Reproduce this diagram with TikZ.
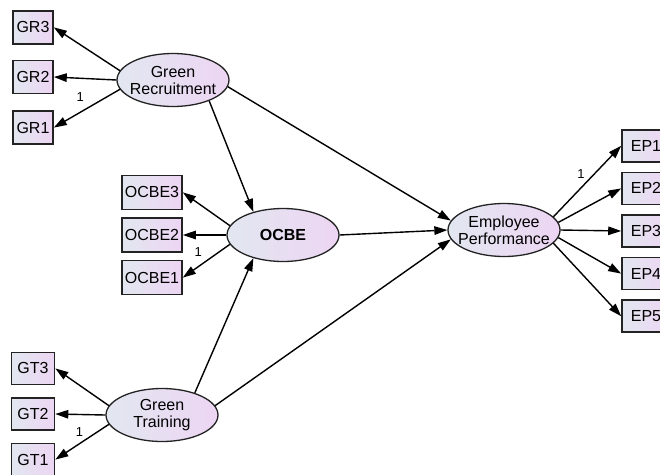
\documentclass[tikz,border=0pt]{standalone}
\usepackage{fontspec}
\setmainfont{Liberation Sans}
\definecolor{semLeft}{RGB}{226, 231, 240}
\definecolor{semRight}{RGB}{237, 213, 243}
\definecolor{semDark}{RGB}{35, 35, 35}
\usetikzlibrary{arrows.meta,positioning,shapes}

\begin{document}
\begin{tikzpicture}[x=1pt, y=-1pt, every node/.style={font=\fontsize{16}{17}\selectfont},
    latent/.style={ellipse, draw=semDark, line width=1.3pt, left color=semLeft, right color=semRight, minimum width=112pt, minimum height=53pt, inner xsep=-8pt, inner ysep=-2pt, align=center},
    indicator/.style={rectangle, draw=semDark, line width=1.6pt, left color=semLeft, right color=semRight, minimum width=40pt, minimum height=33pt, inner sep=1pt},
    loading/.style={-{Triangle[length=13pt, width=8.5pt]}, line width=1.4pt},
    fixone/.style={font=\fontsize{13}{13}\selectfont, inner sep=1pt}]
    \useasboundingbox (0,0) rectangle (660,474);

    % latent variables
    \node[latent] (gr) at (173,80) {Green\\Recruitment};
    \node[latent, font=\fontsize{16}{17}\selectfont\bfseries] (ocbe) at (283,235) {OCBE};
    \node[latent] (gt) at (162,415) {Green\\Training};
    \node[latent] (ep) at (504,230) {Employee\\Performance};

    % green recruitment items
    \node[indicator] (gr2) at (33,77) {GR2};
    \node[indicator, above=15pt of gr2] (gr3) {GR3};
    \node[indicator, below=16pt of gr2] (gr1) {GR1};

    % ocbe items
    \node[indicator, minimum width=60pt, minimum height=34pt] (ocbe2) at (152,235) {OCBE2};
    \node[indicator, minimum width=60pt, minimum height=34pt, above=7pt of ocbe2] (ocbe3) {OCBE3};
    \node[indicator, minimum width=60pt, minimum height=34pt, below=7pt of ocbe2] (ocbe1) {OCBE1};

    % green training items
    \node[indicator, minimum width=43pt, minimum height=32pt] (gt2) at (33,414) {GT2};
    \node[indicator, minimum width=43pt, minimum height=32pt, above=12pt of gt2] (gt3) {GT3};
    \node[indicator, minimum width=43pt, minimum height=32pt, below=12pt of gt2] (gt1) {GT1};

    % employee performance items (cut by the right margin)
    \node[indicator, minimum width=48pt, minimum height=32pt] (ep3) at (646,231) {EP3};
    \node[indicator, minimum width=48pt, minimum height=32pt, above=9pt of ep3] (ep2) {EP2};
    \node[indicator, minimum width=48pt, minimum height=32pt, above=9pt of ep2] (ep1) {EP1};
    \node[indicator, minimum width=48pt, minimum height=32pt, below=9pt of ep3] (ep4) {EP4};
    \node[indicator, minimum width=48pt, minimum height=32pt, below=9pt of ep4] (ep5) {EP5};

    % measurement arrows
    \draw[loading] (gr.170) -- (gr3.east);
    \draw[loading] (gr.180) -- (gr2.east);
    \draw[loading] (gr.190) -- node[fixone, pos=0.6, above=9pt] {1} (gr1.east);

    \draw[loading] (ocbe.170) -- (ocbe3.east);
    \draw[loading] (ocbe.180) -- (ocbe2.east);
    \draw[loading] (ocbe.190) -- node[fixone, pos=0.5, above left=4pt] {1} (ocbe1.east);

    \draw[loading] (gt.170) -- (gt3.east);
    \draw[loading] (gt.180) -- (gt2.east);
    \draw[loading] (gt.190) -- node[fixone, pos=0.55, above=6pt] {1} (gt1.east);

    \draw[loading] (ep.15) -- node[fixone, pos=0.45, above=5pt, xshift=-3pt] {1} (ep1.west);
    \draw[loading] (ep.8) -- (ep2.west);
    \draw[loading] (ep.0) -- (ep3.west);
    \draw[loading] (ep.-8) -- (ep4.west);
    \draw[loading] (ep.-15) -- (ep5.west);

    % structural paths
    \draw[loading] (gr.-30) -- (ocbe.142);
    \draw[loading] (gt.34) -- (ocbe.218);
    \draw[loading] (gr.-7) -- (ep.170);
    \draw[loading] (ocbe.0) -- (ep.180);
    \draw[loading] (gt.10) -- (ep.190);
\end{tikzpicture}
\end{document}
